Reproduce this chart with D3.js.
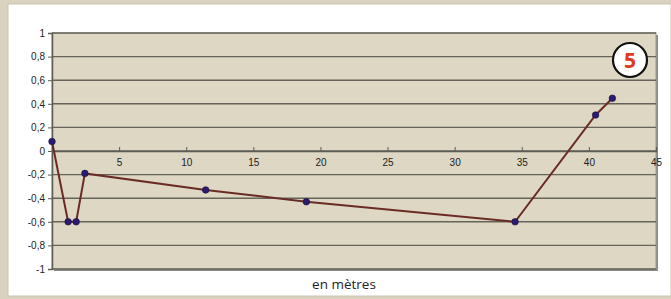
<!DOCTYPE html>
<html><head><meta charset="utf-8">
<script src="https://cdn.jsdelivr.net/npm/d3@7"></script>
<style>
html,body{margin:0;padding:0;background:#d8d2be;}
svg{display:block;}
</style></head>
<body>
<svg id="c" width="671" height="299"></svg>
<script>
const distances = [0, 1.2, 1.8, 2.45, 11.45, 18.95, 34.5, 40.5, 41.75];
const values = [0.08, -0.6, -0.6, -0.19, -0.33, -0.43, -0.6, 0.305, 0.447];
const xTicks = [5, 10, 15, 20, 25, 30, 35, 40, 45];
const yTicks = [1, 0.8, 0.6, 0.4, 0.2, 0, -0.2, -0.4, -0.6, -0.8, -1];
const xLabel = "en mètres";
const badge = "5";

const svg = d3.select("#c");
const L = 52, R = 656, T = 33, B = 269;
const x = d3.scaleLinear().domain([0, 45]).range([L, R]);
const y = d3.scaleLinear().domain([-1, 1]).range([B, T]);

// white panel
svg.append("rect").attr("x", 8).attr("y", 4).attr("width", 663).attr("height", 292)
  .attr("fill", "#ffffff").attr("stroke", "#c9c4b2").attr("stroke-width", 1);

// plot shadow + area
svg.append("rect").attr("x", L + 2).attr("y", T + 2).attr("width", R - L).attr("height", B - T)
  .attr("fill", "#8a8a8a");
svg.append("rect").attr("x", L).attr("y", T).attr("width", R - L).attr("height", B - T)
  .attr("fill", "#ddd7c3").attr("stroke", "#9a9a94").attr("stroke-width", 1);

// gridlines
svg.append("g").selectAll("line").data(yTicks).join("line")
  .attr("x1", L).attr("x2", R).attr("y1", d => y(d)).attr("y2", d => y(d))
  .attr("stroke", "#66645a").attr("stroke-width", 1.4);

// y axis
const fmt = d => d3.format(".1~f")(d).replace(".", ",").replace("−", "-");
const yAxis = d3.axisLeft(y).tickValues(yTicks).tickSize(4).tickPadding(3).tickFormat(fmt);
const gy = svg.append("g").attr("transform", `translate(${L},0)`).call(yAxis);
gy.select(".domain").attr("stroke", "#5d5d55").attr("stroke-width", 1.5);
gy.selectAll(".tick line").attr("stroke", "#5d5d55");
gy.selectAll("text").attr("font-family", "Arial, 'Liberation Sans', sans-serif").attr("font-size", 10).attr("fill", "#222");

// x axis at y=0
const xAxis = d3.axisBottom(x).tickValues(xTicks).tickSize(-4).tickPadding(8).tickFormat(d3.format("d"));
const gx = svg.append("g").attr("transform", `translate(0,${y(0)})`).call(xAxis);
gx.select(".domain").attr("stroke", "#5d5d55").attr("stroke-width", 1.3);
gx.selectAll(".tick line").attr("stroke", "#5d5d55");
gx.selectAll("text").attr("font-family", "Arial, 'Liberation Sans', sans-serif").attr("font-size", 10).attr("fill", "#222");

// line
const pts = distances.map((d, i) => [d, values[i]]);
svg.append("path").datum(pts)
  .attr("d", d3.line().x(d => x(d[0])).y(d => y(d[1])))
  .attr("fill", "none").attr("stroke", "#6a2b25").attr("stroke-width", 2);
svg.append("g").selectAll("circle").data(pts).join("circle")
  .attr("cx", d => x(d[0])).attr("cy", d => y(d[1])).attr("r", 3.3)
  .attr("fill", "#2b1a6e").attr("stroke", "#1a1040").attr("stroke-width", 0.6);

// label
svg.append("text").attr("x", 344).attr("y", 289).attr("text-anchor", "middle")
  .attr("font-family", "'Open Sans', 'DejaVu Sans', sans-serif").attr("font-size", 13.5).attr("fill", "#222")
  .text(xLabel);

// badge
svg.append("circle").attr("cx", 630).attr("cy", 60).attr("r", 17)
  .attr("fill", "#ffffff").attr("stroke", "#111").attr("stroke-width", 2.2);
svg.append("text").attr("x", 630).attr("y", 67.5).attr("text-anchor", "middle")
  .attr("font-family", "'Open Sans', 'DejaVu Sans', sans-serif").attr("font-weight", "bold").attr("font-size", 21).attr("fill", "#dd3a22")
  .text(badge);
</script>
</body></html>
